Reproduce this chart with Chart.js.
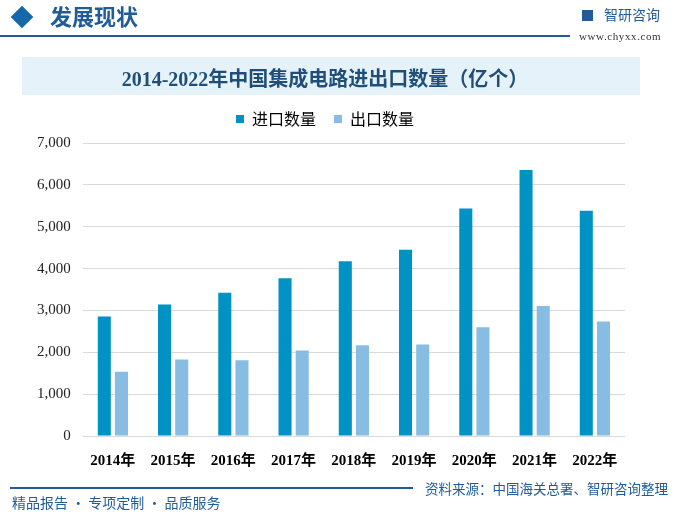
<!DOCTYPE html>
<html>
<head>
<meta charset="utf-8">
<script src="https://cdn.jsdelivr.net/npm/chart.js@4"></script>
<style>
  html, body { margin: 0; padding: 0; background: #fff; }
  #wrap { position: relative; width: 674px; height: 514px; overflow: hidden; font-family: "Noto Sans CJK SC", sans-serif; }
  #chartBox { position: absolute; left: 0; top: 0; width: 674px; height: 514px; }
  .abs { position: absolute; white-space: nowrap; line-height: 1; }
</style>
</head>
<body>
<div id="wrap">
  <div id="chartBox"><canvas id="ioChart"></canvas></div>

  <!-- header -->
  <div class="abs" style="left:14px;top:9px;width:16px;height:16px;background:#1668a8;transform:rotate(45deg);"></div>
  <div class="abs" style="left:50px;top:4px;font-size:22px;font-weight:bold;color:#1f5c99;">发展现状</div>
  <div class="abs" style="left:0;top:35px;width:570px;height:2px;background:#1f5c99;"></div>
  <div class="abs" style="left:582px;top:10px;width:11px;height:11px;background:#1f5c99;"></div>
  <div class="abs" style="left:604px;top:7px;font-size:14px;color:#1f5c99;">智研咨询</div>
  <div class="abs" style="left:579px;top:31px;font-size:11px;font-family:'Liberation Serif',serif;color:#333;letter-spacing:0.6px;">www.chyxx.com</div>

  <!-- footer -->
  <div class="abs" style="left:10px;top:487px;width:403px;height:2px;background:#1f5c99;"></div>
  <div class="abs" style="left:12px;top:495px;font-size:14px;color:#1f5c99;">精品报告 · 专项定制 · 品质服务</div>
  <div class="abs" style="left:425px;top:482px;font-size:13.5px;color:#1f5c99;">资料来源：中国海关总署、智研咨询整理</div>
</div>
<script>
const years = ['2014年', '2015年', '2016年', '2017年', '2018年', '2019年', '2020年', '2021年', '2022年'];
const importQty = [2857, 3140, 3425, 3770, 4176, 4451, 5435, 6355, 5384];
const exportQty = [1535, 1827, 1810, 2043, 2171, 2187, 2598, 3107, 2734];
const yTicks = [0, 1000, 2000, 3000, 4000, 5000, 6000, 7000];

// light blue band behind the title, plus a little room under the legend
const titleBand = {
  id: 'titleBand',
  beforeInit(chart) {
    const lg = chart.legend;
    const fit = lg.fit;
    lg.fit = function () {
      fit.call(this);
      this.height += 6;
    };
  },
  beforeDraw(chart) {
    const c = chart.ctx;
    c.save();
    c.fillStyle = '#e6f2fa';
    c.fillRect(22, 57, 618, 38);
    c.restore();
  }
};

const ctx = document.getElementById('ioChart').getContext('2d');
const ioChart = new Chart(ctx, {
  type: 'bar',
  data: {
    labels: years,
    datasets: [{
      label: '进口数量',
      data: importQty,
      backgroundColor: '#0091c5'
    }, {
      label: '出口数量',
      data: exportQty,
      backgroundColor: '#88bde3'
    }]
  },
  options: {
    responsive: true,
    maintainAspectRatio: false,
    animation: false,
    layout: {
      padding: { top: 56, left: 25, right: 49, bottom: 36 }
    },
    datasets: {
      bar: { categoryPercentage: 0.57, barPercentage: 0.76 }
    },
    plugins: {
      title: {
        display: true,
        text: '2014-2022年中国集成电路进出口数量（亿个）',
        color: '#1f4e79',
        font: { family: "'Liberation Serif', 'Noto Sans CJK SC', serif", size: 20, weight: 'bold' },
        padding: { top: 13, bottom: 0 }
      },
      legend: {
        labels: {
          color: '#000',
          boxWidth: 8,
          boxHeight: 8,
          padding: 18,
          font: { family: "'Noto Sans CJK SC', sans-serif", size: 16 }
        }
      },
      tooltip: { enabled: false }
    },
    scales: {
      y: {
        min: 0,
        max: 7000,
        afterBuildTicks(axis) {
          axis.ticks = yTicks.map(v => ({ value: v }));
        },
        border: { display: false },
        grid: { color: '#d9d9d9', drawTicks: false },
        ticks: {
          color: '#222',
          padding: 12,
          font: { family: "'Liberation Serif', serif", size: 15 },
          callback: v => v.toLocaleString('en-US')
        }
      },
      x: {
        border: { display: false },
        grid: { display: false },
        ticks: {
          color: '#000',
          padding: 8,
          font: { family: "'Liberation Serif', 'Noto Sans CJK SC', serif", size: 15, weight: 'bold' }
        }
      }
    }
  },
  plugins: [titleBand]
});
</script>
</body>
</html>
